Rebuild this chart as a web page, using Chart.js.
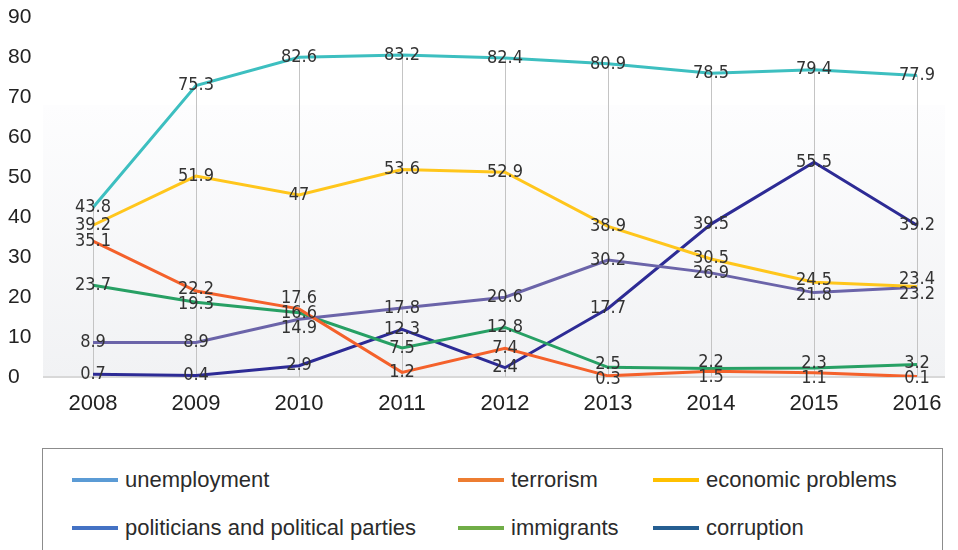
<!DOCTYPE html>
<html>
<head>
<meta charset="utf-8">
<script src="https://cdn.jsdelivr.net/npm/chart.js@4.4.1/dist/chart.umd.min.js"></script>
<style>
  body { margin: 0; background: #fff; width: 958px; height: 550px; overflow: hidden; position: relative; font-family: "Liberation Sans", Arial, sans-serif; }
  #wrap { position: absolute; left: 0; top: 0; width: 958px; height: 430px; }
  #legend { position: absolute; left: 42px; top: 448px; width: 901px; height: 120px; border: 1px solid #8c8c8c; box-sizing: border-box; }
  .item { position: absolute; display: flex; align-items: center; height: 30px; font-size: 22px; color: #2b2b2b; white-space: nowrap; }
  .item .swatch { width: 46px; height: 4px; margin-right: 7px; }
</style>
</head>
<body>
<div id="wrap"><canvas id="chart" width="958" height="430"></canvas></div>
<div id="legend"></div>
<script>
// data
const years = ['2008', '2009', '2010', '2011', '2012', '2013', '2014', '2015', '2016'];
const yTicks = [0, 10, 20, 30, 40, 50, 60, 70, 80, 90];
const unemployment = [43.8, 75.3, 82.6, 83.2, 82.4, 80.9, 78.5, 79.4, 77.9];
const terrorism = [35.1, 22.2, 17.6, 1.2, 7.4, 0.3, 1.5, 1.1, 0.1];
const economicProblems = [39.2, 51.9, 47, 53.6, 52.9, 38.9, 30.5, 24.5, 23.4];
const politicians = [8.9, 8.9, 14.9, 17.8, 20.6, 30.2, 26.9, 21.8, 23.2];
const immigrants = [23.7, 19.3, 16.6, 7.5, 12.8, 2.5, 2.2, 2.3, 3.2];
const corruption = [0.7, 0.4, 2.9, 12.3, 2.4, 17.7, 39.5, 55.5, 39.2];

const seriesNames = ['unemployment', 'terrorism', 'economic problems', 'politicians and political parties', 'immigrants', 'corruption'];
const seriesData = [unemployment, terrorism, economicProblems, politicians, immigrants, corruption];
const lineColors = ['#3dbfc0', '#f4612b', '#ffc61c', '#6b64a9', '#27a064', '#2d2b95'];
const legendColors = ['#5b9bd5', '#ed7d31', '#ffc000', '#4472c4', '#70ad47', '#255e91'];

// Plot background, baseline and drop lines
const backdrop = {
  id: 'backdrop',
  beforeDatasetsDraw(chart) {
    const { ctx, chartArea } = chart;
    const x = chart.scales.x, yd = chart.scales.yd;
    const top = 105, bottom = chartArea.bottom;
    ctx.save();
    const g = ctx.createLinearGradient(0, top, 0, bottom);
    g.addColorStop(0, '#fdfdfe');
    g.addColorStop(1, '#f1f2f4');
    ctx.fillStyle = g;
    ctx.fillRect(43, top, 902, bottom - top);
    ctx.strokeStyle = '#d8d8d8';
    ctx.lineWidth = 2;
    ctx.beginPath();
    ctx.moveTo(43, bottom);
    ctx.lineTo(945, bottom);
    ctx.stroke();
    ctx.strokeStyle = '#c4c4c4';
    ctx.lineWidth = 1;
    years.forEach((yr, i) => {
      const max = Math.max(...seriesData.map(s => s[i]));
      const px = Math.round(x.getPixelForValue(i)) + 0.5;
      ctx.beginPath();
      ctx.moveTo(px, yd.getPixelForValue(max));
      ctx.lineTo(px, bottom);
      ctx.stroke();
    });
    ctx.restore();
  }
};

// Value labels, spread apart where they collide
const valueLabels = {
  id: 'valueLabels',
  afterDatasetsDraw(chart) {
    const { ctx } = chart;
    const x = chart.scales.x, yd = chart.scales.yd;
    const gap = 15;
    ctx.save();
    ctx.font = '18px "DejaVu Sans Condensed", "DejaVu Sans", sans-serif';
    ctx.fillStyle = '#333';
    ctx.textAlign = 'center';
    ctx.textBaseline = 'middle';
    years.forEach((yr, i) => {
      const items = seriesData.map(s => ({ v: s[i], y: yd.getPixelForValue(s[i]) }));
      items.sort((a, b) => a.y - b.y);
      for (let pass = 0; pass < 20; pass++) {
        let moved = false;
        for (let k = 1; k < items.length; k++) {
          const d = items[k].y - items[k - 1].y;
          if (d < gap) {
            const push = (gap - d) / 2;
            items[k - 1].y -= push;
            items[k].y += push;
            moved = true;
          }
        }
        if (!moved) break;
      }
      items.forEach(it => ctx.fillText(String(it.v), x.getPixelForValue(i), it.y));
    });
    ctx.restore();
  }
};

const chart = new Chart(document.getElementById('chart'), {
  type: 'line',
  data: {
    labels: years,
    datasets: seriesData.map((d, i) => ({
      label: seriesNames[i],
      data: d,
      yAxisID: 'yd',
      borderColor: lineColors[i],
      backgroundColor: lineColors[i],
      borderWidth: 3,
      pointRadius: 0,
      tension: 0,
      fill: false
    }))
  },
  options: {
    responsive: false,
    animation: false,
    layout: { padding: { left: 8, right: 41, top: 17, bottom: 0 } },
    plugins: {
      legend: { display: false },
      tooltip: { enabled: false }
    },
    scales: {
      x: {
        offset: false,
        grid: { display: false, drawTicks: false },
        border: { display: false },
        ticks: { color: '#222', font: { size: 22, family: '"Liberation Sans", Arial, sans-serif' }, padding: 14, maxRotation: 0 },
        afterFit(scale) { scale.height = 53; }
      },
      y: {
        min: 0,
        max: 90,
        afterBuildTicks(scale) { scale.ticks = yTicks.map(v => ({ value: v })); },
        grid: { display: false, drawTicks: false },
        border: { display: false },
        ticks: { color: '#222', crossAlign: 'far', font: { size: 21, family: '"Liberation Sans", Arial, sans-serif' } },
        afterFit(scale) { scale.width = 85; }
      },
      yd: {
        display: false,
        min: 0,
        max: 93
      }
    }
  },
  plugins: [backdrop, valueLabels]
});

// Legend (colours as in the original key)
const legend = document.getElementById('legend');
const cols = [29, 415, 610];
const rows = [16, 64];
seriesNames.forEach((name, i) => {
  const el = document.createElement('div');
  el.className = 'item';
  el.style.left = cols[i % 3] + 'px';
  el.style.top = rows[Math.floor(i / 3)] + 'px';
  el.innerHTML = `<span class="swatch" style="background:${legendColors[i]}"></span><span>${name}</span>`;
  legend.appendChild(el);
});
</script>
</body>
</html>
